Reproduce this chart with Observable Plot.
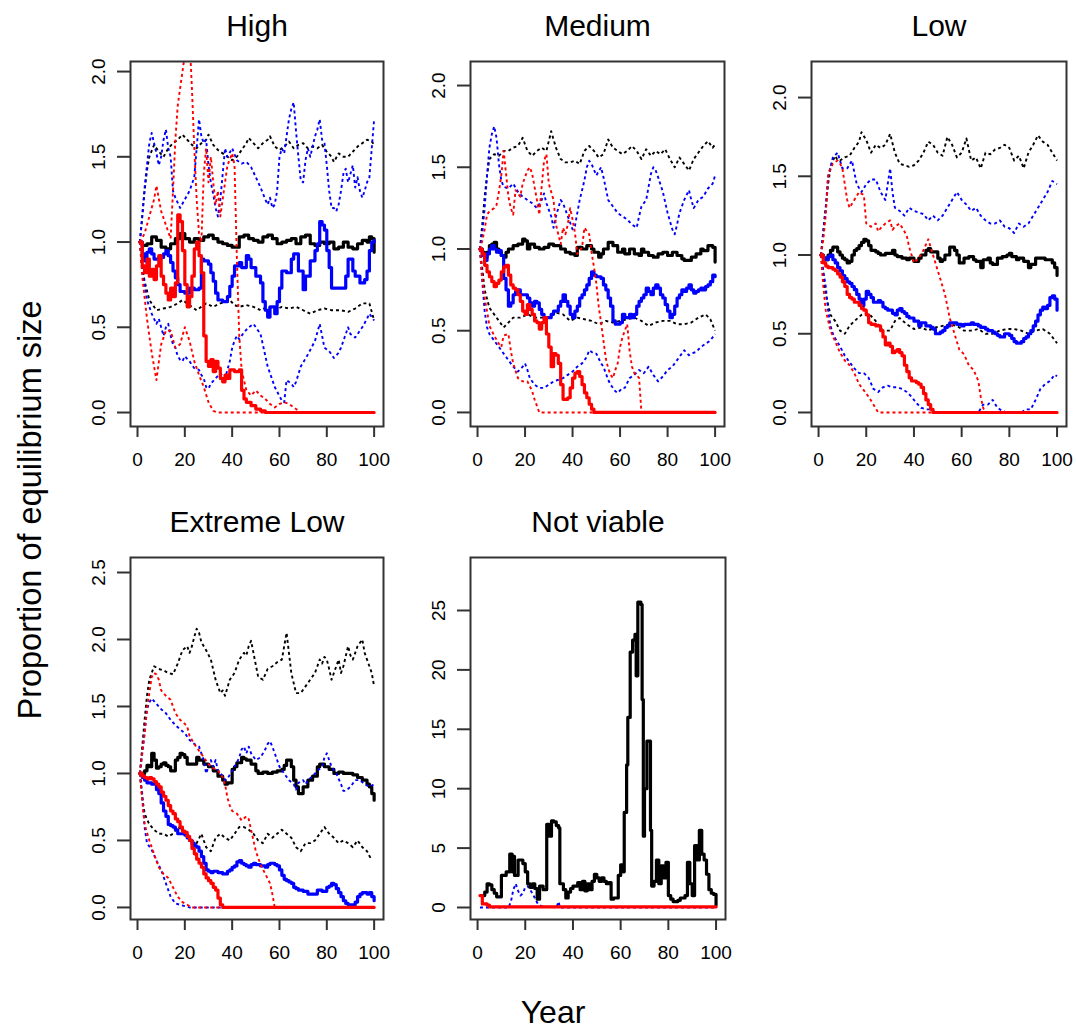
<!DOCTYPE html>
<html><head><meta charset="utf-8">
<script src="https://cdn.jsdelivr.net/npm/d3@7"></script>
<script src="https://cdn.jsdelivr.net/npm/@observablehq/plot@0.6"></script>
<style>
body{margin:0;background:#fff;}
#wrap{position:relative;width:1076px;height:1030px;background:#fff;overflow:hidden;}
</style></head><body><div id="wrap"></div>
<script>
// ---------- tick labels ----------
const xTicks = [0,20,40,60,80,100];
const yTicks20 = [0,0.5,1,1.5,2];
const yTicks25 = [0,0.5,1,1.5,2,2.5];
const yTicksNV = [0,5,10,15,20,25];
const panelTitles = ["High","Medium","Low","Extreme Low","Not viable"];
const yLabel = "Proportion of equilibrium size";
const xLabel = "Year";

// ---------- High ----------
const high_black = [[1,1.0],[2,0.98],[4,0.99],[6,1.03],[8,1.01],[10,0.97],[12,0.96],[14,0.99],[16,1.02],[18,1.05],[20,1.02],[22,1.0],[24,1.02],[26,1.01],[28,1.03],[30,1.04],[32,1.02],[34,1.0],[36,0.99],[38,0.98],[40,0.97],[42,0.97],[43,1.03],[45,1.04],[47,1.02],[49,1.01],[51,1.0],[53,1.03],[55,1.04],[57,1.02],[59,0.99],[61,1.0],[63,1.01],[65,1.02],[67,0.99],[69,1.03],[71,1.04],[73,0.99],[75,0.98],[77,1.0],[79,0.99],[81,1.0],[83,0.96],[85,0.97],[87,1.0],[89,0.97],[91,0.96],[93,0.99],[95,1.01],[97,1.0],[98,1.03],[99,1.02],[100,0.94]];
const high_black_hi = [[1,1.0],[2,1.15],[3,1.3],[4,1.42],[5,1.5],[7,1.57],[9,1.53],[11,1.5],[13,1.55],[15,1.58],[17,1.6],[19,1.63],[21,1.6],[23,1.57],[25,1.55],[27,1.58],[29,1.6],[30,1.63],[32,1.57],[34,1.54],[36,1.52],[38,1.5],[40,1.48],[42,1.5],[44,1.54],[46,1.58],[47,1.61],[49,1.58],[51,1.55],[53,1.58],[55,1.6],[56,1.62],[58,1.56],[60,1.54],[62,1.56],[64,1.59],[66,1.55],[68,1.57],[70,1.58],[72,1.55],[74,1.56],[76,1.55],[78,1.57],[80,1.53],[82,1.5],[83,1.47],[85,1.52],[87,1.5],[89,1.5],[91,1.53],[93,1.56],[95,1.58],[97,1.6],[99,1.59],[100,1.57]];
const high_black_lo = [[1,1.0],[2,0.85],[3,0.77],[5,0.66],[8,0.6],[11,0.61],[14,0.62],[17,0.64],[19,0.66],[22,0.63],[25,0.6],[27,0.62],[29,0.64],[32,0.62],[35,0.64],[39,0.66],[41,0.63],[43,0.62],[46,0.63],[49,0.62],[52,0.6],[55,0.62],[58,0.6],[61,0.62],[64,0.61],[67,0.62],[70,0.6],[73,0.58],[76,0.6],[79,0.61],[82,0.6],[86,0.6],[89,0.59],[92,0.61],[95,0.64],[98,0.64],[100,0.54]];
const high_blue = [[1,1.0],[2,0.93],[3,0.89],[4,0.94],[5,0.96],[6,0.93],[7,0.9],[9,0.91],[11,0.93],[12,0.95],[13,0.92],[14,0.88],[15,0.83],[16,0.79],[17,0.75],[18,0.71],[20,0.7],[22,0.73],[24,0.72],[26,0.73],[27,0.9],[28,0.89],[30,0.87],[31,0.82],[32,0.77],[33,0.7],[34,0.66],[36,0.65],[38,0.68],[39,0.74],[40,0.8],[41,0.86],[43,0.88],[44,0.85],[46,0.92],[47,0.9],[48,0.85],[50,0.8],[52,0.76],[53,0.65],[54,0.6],[55,0.56],[56,0.62],[58,0.58],[59,0.65],[60,0.73],[61,0.83],[63,0.82],[65,0.9],[66,0.93],[68,0.83],[70,0.72],[71,0.8],[73,0.89],[75,0.95],[76,0.99],[77,1.12],[78,1.1],[79,1.07],[80,0.95],[81,0.85],[82,0.73],[87,0.73],[88,0.8],[89,0.9],[91,0.83],[92,0.8],[94,0.76],[96,0.78],[97,0.83],[98,0.95],[99,1.0],[100,1.01]];
const high_blue_hi = [[1,1.0],[2,1.15],[3,1.32],[4,1.45],[5,1.58],[6,1.64],[7,1.58],[8,1.52],[9,1.45],[10,1.5],[11,1.6],[12,1.66],[13,1.55],[14,1.5],[15,1.3],[16,1.26],[17,1.23],[18,1.2],[20,1.25],[22,1.3],[23,1.34],[24,1.38],[25,1.55],[26,1.72],[27,1.62],[28,1.58],[29,1.6],[30,1.45],[31,1.35],[32,1.28],[33,1.2],[34,1.15],[35,1.25],[36,1.4],[37,1.55],[38,1.5],[40,1.55],[42,1.48],[44,1.46],[46,1.47],[48,1.44],[50,1.38],[52,1.32],[54,1.25],[55,1.22],[56,1.26],[57,1.2],[58,1.22],[59,1.3],[60,1.5],[61,1.55],[62,1.52],[63,1.62],[64,1.72],[65,1.78],[66,1.82],[67,1.65],[68,1.5],[69,1.36],[70,1.35],[71,1.48],[72,1.55],[73,1.5],[74,1.56],[75,1.62],[76,1.66],[77,1.72],[78,1.6],[79,1.58],[80,1.45],[81,1.3],[82,1.2],[83,1.2],[84,1.18],[85,1.22],[86,1.3],[87,1.4],[88,1.43],[89,1.35],[90,1.4],[91,1.45],[92,1.32],[93,1.38],[94,1.3],[95,1.26],[96,1.3],[97,1.35],[98,1.38],[99,1.55],[100,1.72]];
const high_blue_lo = [[1,1.0],[2,0.85],[3,0.75],[4,0.66],[5,0.62],[6,0.58],[7,0.55],[8,0.52],[9,0.55],[10,0.5],[11,0.45],[12,0.5],[13,0.52],[14,0.45],[15,0.4],[16,0.38],[17,0.33],[18,0.31],[19,0.3],[20,0.33],[22,0.3],[24,0.26],[26,0.25],[27,0.22],[28,0.2],[29,0.15],[30,0.14],[31,0.17],[33,0.2],[35,0.23],[37,0.2],[38,0.25],[39,0.3],[40,0.38],[41,0.42],[42,0.45],[43,0.43],[45,0.47],[47,0.5],[49,0.52],[50,0.5],[52,0.46],[55,0.27],[58,0.15],[61,0.07],[62,0.06],[63,0.19],[65,0.17],[66,0.15],[67,0.18],[69,0.27],[72,0.34],[75,0.42],[77,0.52],[79,0.38],[81,0.36],[83,0.32],[85,0.35],[86,0.38],[89,0.5],[90,0.46],[92,0.44],[93,0.46],[95,0.5],[97,0.55],[98,0.58],[99,0.56],[100,0.54]];
const high_red = [[1,1.0],[2,0.86],[3,0.82],[4,0.9],[5,0.8],[6,0.84],[7,0.78],[8,0.86],[9,0.92],[10,0.8],[11,0.75],[12,0.7],[13,0.66],[14,0.73],[15,0.68],[16,0.76],[17,1.16],[18,1.12],[19,0.95],[20,0.75],[21,0.62],[22,0.68],[23,0.8],[24,0.96],[25,1.0],[26,0.92],[27,0.82],[28,0.45],[29,0.3],[30,0.27],[31,0.31],[32,0.24],[33,0.3],[34,0.26],[35,0.2],[36,0.18],[37,0.22],[38,0.2],[39,0.25],[41,0.24],[43,0.25],[44,0.13],[45,0.08],[46,0.06],[48,0.04],[50,0.02],[52,0.01],[54,0],[100,0]];
const high_red_hi = [[1,1.0],[3,1.05],[5,1.15],[7,1.25],[8,1.33],[10,1.18],[12,1.1],[14,1.02],[15,1.3],[16,1.6],[17,1.8],[18,1.9],[19,2.0],[20,2.1],[21,2.15],[22,2.2],[23,1.9],[24,1.55],[25,1.25],[26,1.05],[27,1.0],[28,1.4],[29,1.55],[30,1.35],[31,1.5],[32,1.35],[33,1.22],[34,1.3],[35,1.15],[36,1.25],[38,1.45],[40,1.52],[41,1.45],[42,0.9],[43,0.45],[44,0.25],[46,0.13],[48,0.1],[50,0.13],[52,0.1],[54,0.08],[56,0.05],[58,0.03],[60,0.05],[62,0.06],[64,0.05],[66,0.03],[68,0.01],[69,0],[100,0]];
const high_red_lo = [[1,1.0],[2,0.8],[4,0.55],[6,0.35],[8,0.19],[10,0.4],[12,0.48],[14,0.48],[16,0.38],[18,0.4],[20,0.5],[22,0.42],[24,0.3],[26,0.22],[28,0.15],[30,0.06],[32,0.01],[34,0],[100,0]];

// ---------- Medium ----------
const med_black = [[1,1.0],[2,0.98],[3,0.95],[4,0.98],[5,1.02],[6,1.03],[7,1.04],[8,1.0],[9,0.98],[10,0.96],[11,0.95],[12,0.98],[13,1.0],[15,1.02],[17,1.03],[19,1.06],[20,1.05],[21,1.0],[22,1.03],[24,1.01],[26,1.0],[28,1.01],[30,1.03],[32,1.02],[34,1.02],[35,1.0],[37,0.98],[39,0.97],[41,0.96],[42,1.01],[44,1.0],[46,1.02],[48,1.0],[49,0.98],[51,0.95],[52,0.97],[53,1.0],[55,1.04],[57,1.02],[59,0.98],[61,1.0],[62,0.97],[64,1.0],[66,0.97],[68,0.96],[69,1.0],[70,0.98],[72,0.96],[74,0.95],[76,0.97],[78,0.98],[80,0.96],[82,0.98],[84,0.96],[86,0.94],[87,0.93],[89,0.93],[90,0.95],[92,0.97],[94,1.0],[95,0.99],[97,1.02],[99,1.01],[100,0.92]];
const med_black_hi = [[1,1.0],[2,1.15],[3,1.32],[4,1.45],[5,1.55],[7,1.58],[9,1.57],[11,1.6],[13,1.6],[15,1.62],[17,1.63],[19,1.68],[21,1.6],[23,1.57],[25,1.6],[27,1.62],[29,1.6],[31,1.72],[33,1.62],[35,1.55],[37,1.53],[39,1.53],[41,1.54],[43,1.52],[45,1.6],[47,1.63],[49,1.6],[51,1.56],[53,1.58],[55,1.67],[57,1.62],[59,1.6],[61,1.58],[63,1.6],[65,1.63],[67,1.6],[69,1.55],[71,1.61],[73,1.57],[75,1.6],[77,1.58],[79,1.61],[81,1.55],[83,1.5],[85,1.56],[87,1.52],[89,1.48],[91,1.55],[93,1.59],[95,1.63],[97,1.66],[99,1.62],[100,1.64]];
const med_black_lo = [[1,1.0],[2,0.88],[3,0.75],[5,0.64],[7,0.6],[9,0.56],[11,0.52],[13,0.55],[15,0.58],[18,0.58],[21,0.6],[24,0.58],[27,0.58],[30,0.58],[33,0.61],[36,0.6],[39,0.56],[42,0.58],[45,0.57],[48,0.56],[51,0.54],[54,0.56],[57,0.55],[60,0.56],[63,0.57],[66,0.58],[69,0.56],[72,0.53],[75,0.55],[78,0.56],[81,0.56],[84,0.54],[87,0.54],[90,0.55],[93,0.58],[96,0.6],[98,0.57],[100,0.5]];
const med_blue = [[1,1.0],[2,0.96],[3,0.93],[4,0.97],[5,1.0],[6,1.02],[7,1.0],[8,0.98],[9,0.99],[10,0.96],[11,0.82],[12,0.75],[13,0.65],[14,0.67],[15,0.72],[16,0.74],[17,0.75],[18,0.72],[20,0.72],[21,0.7],[22,0.67],[23,0.65],[24,0.68],[25,0.67],[26,0.63],[27,0.6],[28,0.58],[30,0.58],[31,0.6],[32,0.62],[34,0.65],[35,0.68],[36,0.72],[37,0.68],[38,0.65],[39,0.6],[40,0.58],[41,0.62],[42,0.65],[43,0.7],[44,0.72],[45,0.75],[46,0.78],[47,0.82],[48,0.86],[49,0.84],[50,0.83],[52,0.82],[53,0.78],[54,0.75],[55,0.7],[56,0.65],[57,0.56],[58,0.54],[60,0.55],[61,0.6],[62,0.58],[64,0.6],[65,0.58],[66,0.6],[67,0.65],[68,0.68],[69,0.7],[70,0.72],[71,0.76],[72,0.74],[73,0.72],[74,0.76],[75,0.78],[76,0.76],[77,0.72],[78,0.7],[79,0.66],[80,0.62],[81,0.58],[82,0.6],[83,0.65],[84,0.7],[85,0.72],[86,0.75],[87,0.74],[88,0.76],[89,0.78],[90,0.75],[91,0.73],[92,0.74],[93,0.75],[94,0.76],[95,0.75],[96,0.77],[97,0.78],[98,0.8],[99,0.84],[100,0.83]];
const med_blue_hi = [[1,1.0],[2,1.1],[3,1.25],[4,1.45],[5,1.62],[6,1.7],[7,1.75],[8,1.68],[9,1.52],[10,1.42],[11,1.38],[13,1.37],[15,1.4],[17,1.35],[19,1.32],[21,1.3],[23,1.28],[25,1.25],[27,1.3],[28,1.34],[29,1.28],[31,1.2],[32,1.13],[33,1.2],[35,1.3],[36,1.28],[38,1.2],[40,1.12],[41,1.14],[43,1.3],[45,1.42],[46,1.5],[47,1.54],[48,1.52],[50,1.45],[52,1.5],[53,1.44],[55,1.3],[57,1.26],[59,1.22],[61,1.2],[63,1.18],[65,1.15],[67,1.13],[68,1.2],[69,1.26],[71,1.3],[72,1.38],[73,1.46],[74,1.5],[75,1.48],[76,1.44],[78,1.35],[80,1.22],[82,1.12],[83,1.09],[84,1.15],[85,1.22],[87,1.3],[89,1.36],[90,1.3],[91,1.25],[93,1.3],[95,1.32],[97,1.37],[99,1.4],[100,1.45]];
const med_blue_lo = [[1,1.0],[2,0.8],[3,0.62],[4,0.52],[5,0.48],[7,0.44],[9,0.4],[11,0.36],[13,0.32],[15,0.28],[17,0.25],[19,0.28],[20,0.3],[21,0.26],[22,0.21],[24,0.17],[26,0.15],[28,0.15],[30,0.17],[32,0.19],[34,0.2],[36,0.21],[38,0.23],[40,0.25],[42,0.28],[44,0.3],[46,0.34],[47,0.38],[49,0.36],[50,0.36],[52,0.3],[53,0.28],[55,0.2],[56,0.17],[58,0.13],[59,0.12],[61,0.15],[62,0.15],[64,0.21],[66,0.23],[68,0.26],[70,0.24],[72,0.28],[74,0.23],[76,0.19],[78,0.22],[80,0.26],[82,0.28],[84,0.32],[86,0.36],[87,0.38],[89,0.35],[90,0.36],[92,0.37],[94,0.4],[96,0.42],[98,0.44],[100,0.48]];
const med_red = [[1,1.0],[2,0.97],[3,0.9],[4,0.86],[5,0.83],[6,0.8],[7,0.77],[8,0.79],[9,0.81],[10,0.86],[11,0.89],[12,0.9],[13,0.84],[14,0.78],[15,0.76],[16,0.75],[17,0.72],[18,0.68],[19,0.62],[20,0.6],[21,0.66],[22,0.63],[23,0.6],[24,0.56],[25,0.55],[26,0.51],[27,0.55],[28,0.58],[29,0.48],[30,0.4],[31,0.28],[32,0.36],[33,0.35],[34,0.3],[35,0.17],[36,0.08],[38,0.09],[39,0.15],[40,0.21],[41,0.24],[42,0.25],[43,0.22],[44,0.17],[45,0.12],[46,0.09],[47,0.05],[48,0.02],[49,0],[100,0]];
const med_red_hi = [[1,1.0],[2,1.05],[3,1.12],[4,1.21],[5,1.23],[7,1.25],[8,1.27],[9,1.35],[10,1.45],[11,1.6],[12,1.46],[13,1.32],[14,1.25],[15,1.21],[16,1.36],[18,1.32],[19,1.4],[21,1.48],[22,1.5],[23,1.46],[24,1.38],[25,1.3],[26,1.21],[27,1.38],[28,1.54],[29,1.58],[30,1.4],[32,1.3],[33,1.15],[34,1.09],[35,1.03],[36,1.13],[37,1.09],[38,1.15],[39,1.25],[40,1.18],[41,1.1],[42,0.97],[44,1.01],[45,1.13],[47,1.09],[48,0.98],[49,0.89],[50,0.79],[51,0.65],[52,0.55],[53,0.44],[54,0.33],[55,0.27],[56,0.23],[57,0.21],[58,0.26],[59,0.3],[60,0.4],[61,0.46],[62,0.5],[63,0.54],[64,0.38],[65,0.28],[66,0.24],[67,0.23],[68,0.21],[69,0],[100,0]];
const med_red_lo = [[1,1.0],[2,0.82],[3,0.7],[4,0.62],[5,0.53],[7,0.47],[9,0.42],[10,0.4],[11,0.47],[13,0.48],[14,0.38],[15,0.3],[17,0.21],[19,0.19],[21,0.19],[23,0.13],[24,0.08],[26,0],[100,0]];

// ---------- Low ----------
const low_black = [[1,1.0],[2,0.98],[3,0.97],[4,1.0],[5,1.03],[6,1.05],[7,1.05],[8,1.02],[9,1.0],[10,0.98],[11,0.97],[12,0.95],[13,0.96],[14,1.0],[15,1.03],[16,1.04],[17,1.06],[18,1.08],[19,1.1],[20,1.09],[21,1.06],[22,1.03],[24,1.02],[25,1.01],[26,1.0],[28,1.01],[30,1.01],[31,1.03],[32,1.0],[33,0.99],[35,0.98],[37,0.97],[38,0.98],[40,0.96],[42,0.98],[43,1.0],[45,1.03],[46,1.04],[47,1.02],[48,1.02],[50,0.98],[51,0.96],[52,0.97],[53,1.0],[55,1.05],[57,1.03],[58,1.0],[59,0.95],[60,0.95],[61,0.98],[63,0.99],[65,0.97],[66,0.96],[68,0.92],[69,0.97],[71,0.98],[72,0.95],[73,0.94],[75,0.98],[77,0.99],[79,1.0],[80,1.01],[81,0.99],[83,0.97],[84,0.98],[86,0.96],[88,0.92],[89,0.94],[91,0.98],[93,0.98],[95,0.97],[97,0.97],[98,0.95],[99,0.92],[100,0.87]];
const low_black_hi = [[1,1.0],[2,1.15],[3,1.3],[4,1.45],[5,1.55],[6,1.6],[7,1.63],[8,1.6],[9,1.6],[11,1.62],[13,1.63],[15,1.68],[17,1.72],[18,1.78],[20,1.73],[22,1.65],[24,1.7],[26,1.68],[28,1.7],[30,1.77],[32,1.65],[34,1.58],[36,1.57],[38,1.56],[40,1.57],[42,1.6],[44,1.65],[46,1.72],[48,1.7],[50,1.65],[52,1.63],[54,1.75],[56,1.7],[58,1.62],[60,1.65],[62,1.74],[64,1.6],[66,1.62],[68,1.55],[70,1.65],[72,1.64],[74,1.67],[76,1.68],[78,1.7],[80,1.68],[82,1.6],[84,1.63],[86,1.55],[88,1.65],[90,1.7],[92,1.76],[94,1.72],[96,1.7],[98,1.65],[100,1.6]];
const low_black_lo = [[1,1.0],[2,0.87],[3,0.75],[5,0.62],[7,0.58],[9,0.52],[11,0.5],[13,0.55],[15,0.58],[18,0.62],[21,0.63],[24,0.58],[27,0.52],[30,0.52],[32,0.58],[34,0.6],[37,0.56],[40,0.53],[43,0.54],[46,0.52],[49,0.54],[52,0.55],[55,0.56],[58,0.55],[61,0.52],[64,0.52],[67,0.53],[70,0.5],[73,0.5],[76,0.52],[79,0.53],[82,0.53],[85,0.52],[88,0.5],[91,0.52],[94,0.53],[97,0.5],[100,0.44]];
const low_blue = [[1,1.0],[2,0.98],[3,0.97],[4,0.99],[5,1.0],[6,0.97],[7,0.95],[8,0.92],[9,0.9],[10,0.87],[11,0.85],[12,0.83],[13,0.82],[14,0.8],[15,0.78],[16,0.75],[17,0.72],[18,0.68],[19,0.72],[20,0.77],[21,0.75],[22,0.73],[23,0.7],[24,0.7],[25,0.71],[26,0.7],[27,0.67],[28,0.66],[29,0.65],[30,0.65],[31,0.63],[32,0.62],[33,0.65],[34,0.66],[35,0.64],[36,0.63],[37,0.61],[38,0.6],[39,0.6],[40,0.58],[41,0.58],[42,0.55],[43,0.57],[44,0.57],[45,0.55],[46,0.55],[47,0.54],[48,0.53],[49,0.5],[50,0.5],[51,0.51],[52,0.52],[53,0.54],[54,0.55],[55,0.57],[56,0.57],[58,0.56],[60,0.55],[61,0.56],[62,0.56],[64,0.57],[65,0.56],[66,0.56],[67,0.55],[68,0.54],[70,0.53],[71,0.52],[72,0.52],[73,0.51],[74,0.5],[75,0.49],[76,0.48],[77,0.48],[78,0.5],[79,0.5],[80,0.49],[81,0.47],[82,0.45],[83,0.44],[84,0.44],[85,0.45],[86,0.47],[87,0.48],[88,0.5],[89,0.52],[90,0.55],[91,0.58],[92,0.62],[93,0.65],[94,0.67],[95,0.66],[96,0.68],[97,0.73],[98,0.74],[99,0.72],[100,0.65]];
const low_blue_hi = [[1,1.0],[2,1.15],[3,1.3],[4,1.5],[6,1.62],[8,1.65],[10,1.55],[12,1.55],[14,1.6],[16,1.45],[18,1.4],[20,1.45],[22,1.48],[24,1.48],[26,1.4],[28,1.35],[30,1.55],[31,1.4],[32,1.3],[34,1.28],[36,1.25],[38,1.3],[40,1.28],[42,1.27],[44,1.26],[46,1.22],[48,1.25],[50,1.22],[52,1.25],[54,1.3],[56,1.35],[58,1.4],[60,1.35],[62,1.32],[64,1.28],[66,1.3],[68,1.25],[70,1.22],[72,1.2],[74,1.2],[76,1.22],[78,1.18],[80,1.17],[82,1.14],[84,1.2],[86,1.18],[88,1.2],[90,1.25],[92,1.3],[94,1.35],[96,1.4],[98,1.47],[100,1.45]];
const low_blue_lo = [[1,1.0],[2,0.9],[3,0.8],[4,0.65],[5,0.55],[6,0.5],[7,0.47],[9,0.42],[11,0.36],[13,0.32],[15,0.28],[17,0.25],[19,0.25],[21,0.22],[23,0.15],[25,0.13],[27,0.16],[29,0.17],[31,0.16],[33,0.16],[35,0.15],[37,0.13],[39,0.1],[41,0.06],[43,0.03],[45,0.02],[47,0.02],[49,0.0],[67,0.0],[69,0.05],[71,0.05],[73,0.08],[75,0.03],[77,0.01],[79,0.0],[85,0.0],[87,0.02],[89,0.02],[91,0.08],[93,0.15],[95,0.18],[97,0.2],[99,0.24],[100,0.23]];
const low_red = [[1,1.0],[2,0.95],[3,0.93],[4,0.92],[5,0.92],[6,0.91],[7,0.9],[8,0.88],[9,0.86],[10,0.83],[11,0.8],[12,0.75],[13,0.73],[14,0.72],[15,0.7],[16,0.7],[17,0.68],[18,0.66],[19,0.65],[20,0.62],[21,0.57],[22,0.56],[23,0.56],[24,0.55],[25,0.55],[26,0.52],[27,0.48],[28,0.43],[29,0.44],[30,0.42],[31,0.38],[32,0.39],[33,0.4],[34,0.38],[35,0.36],[36,0.3],[37,0.26],[38,0.22],[39,0.2],[40,0.2],[41,0.19],[42,0.18],[43,0.16],[44,0.12],[45,0.08],[46,0.05],[47,0.02],[48,0],[100,0]];
const low_red_hi = [[1,1.0],[2,1.1],[3,1.25],[4,1.5],[5,1.55],[6,1.58],[8,1.6],[9,1.58],[10,1.55],[11,1.45],[12,1.35],[13,1.3],[15,1.35],[17,1.4],[19,1.38],[20,1.2],[22,1.18],[24,1.2],[25,1.15],[26,1.17],[28,1.2],[30,1.22],[31,1.16],[32,1.18],[34,1.2],[36,1.15],[37,1.12],[38,1.05],[39,1.0],[40,0.95],[42,0.98],[44,1.03],[46,1.1],[47,1.05],[49,0.95],[51,0.85],[53,0.75],[55,0.6],[57,0.5],[59,0.4],[61,0.37],[63,0.3],[65,0.27],[67,0.2],[68,0.1],[69,0.03],[70,0.0],[100,0]];
const low_red_lo = [[1,1.0],[2,0.8],[3,0.65],[5,0.52],[7,0.45],[9,0.38],[11,0.33],[13,0.3],[15,0.25],[17,0.18],[19,0.14],[21,0.1],[23,0.05],[25,0.0],[100,0]];

// ---------- Extreme Low ----------
const ext_black = [[1,1.0],[2,1.0],[3,1.02],[4,1.06],[5,1.05],[6,1.15],[7,1.1],[8,1.04],[9,1.05],[10,1.07],[11,1.08],[12,1.06],[13,1.05],[14,1.02],[16,1.1],[17,1.12],[18,1.15],[19,1.14],[20,1.12],[21,1.07],[23,1.07],[25,1.12],[26,1.1],[28,1.07],[30,1.05],[32,1.02],[34,0.98],[36,0.95],[37,0.92],[38,0.93],[40,1.03],[41,1.05],[42,1.08],[44,1.12],[45,1.11],[46,1.1],[48,1.07],[50,1.02],[51,1.0],[53,1.01],[55,1.0],[57,1.01],[59,1.02],[61,1.03],[62,1.06],[63,1.1],[65,1.05],[66,0.95],[67,0.9],[68,0.85],[70,0.9],[72,0.95],[74,0.98],[76,1.05],[77,1.07],[79,1.05],[81,1.03],[83,1.0],[85,1.01],[87,1.0],[89,1.0],[91,0.99],[93,0.97],[95,0.95],[97,0.92],[98,0.9],[99,0.85],[100,0.8]];
const ext_black_hi = [[1,1.0],[2,1.2],[3,1.4],[4,1.58],[5,1.7],[6,1.75],[7,1.8],[9,1.78],[11,1.77],[13,1.75],[15,1.74],[17,1.82],[19,1.92],[21,1.95],[22,1.9],[23,1.95],[24,2.02],[25,2.08],[26,2.05],[27,1.98],[29,1.92],[31,1.85],[33,1.7],[35,1.6],[36,1.62],[37,1.58],[39,1.7],[41,1.75],[43,1.85],[45,1.9],[46,1.88],[47,1.95],[48,1.99],[49,1.9],[51,1.72],[53,1.7],[55,1.78],[57,1.8],[59,1.83],[61,1.85],[62,1.95],[63,2.05],[64,1.9],[65,1.75],[67,1.6],[69,1.6],[71,1.65],[73,1.7],[75,1.75],[77,1.85],[78,1.82],[79,1.87],[80,1.85],[81,1.78],[82,1.7],[83,1.75],[85,1.85],[86,1.75],[87,1.8],[89,1.95],[90,1.88],[91,1.85],[93,1.95],[95,2.0],[96,1.9],[97,1.85],[99,1.75],[100,1.65]];
const ext_black_lo = [[1,1.0],[2,0.82],[3,0.7],[5,0.62],[7,0.58],[9,0.55],[11,0.55],[13,0.53],[15,0.55],[17,0.6],[19,0.58],[21,0.55],[23,0.5],[25,0.48],[27,0.55],[29,0.45],[31,0.42],[33,0.52],[35,0.55],[37,0.52],[39,0.5],[41,0.55],[43,0.6],[45,0.6],[47,0.58],[49,0.55],[51,0.5],[53,0.48],[55,0.55],[57,0.52],[59,0.55],[61,0.58],[63,0.55],[65,0.52],[67,0.45],[69,0.42],[71,0.48],[73,0.48],[75,0.5],[77,0.55],[79,0.6],[81,0.55],[83,0.52],[85,0.48],[87,0.5],[89,0.48],[91,0.45],[93,0.5],[95,0.45],[97,0.42],[99,0.35]];
const ext_blue = [[1,1.0],[2,0.97],[3,0.95],[4,0.93],[5,0.93],[6,0.92],[7,0.92],[8,0.88],[9,0.85],[10,0.78],[11,0.72],[12,0.68],[13,0.62],[14,0.61],[15,0.6],[16,0.58],[17,0.55],[18,0.55],[19,0.55],[20,0.54],[21,0.52],[22,0.5],[23,0.48],[24,0.46],[25,0.45],[26,0.42],[27,0.38],[28,0.33],[29,0.28],[30,0.27],[31,0.26],[32,0.27],[33,0.27],[34,0.26],[35,0.26],[36,0.25],[37,0.25],[38,0.27],[39,0.28],[40,0.3],[41,0.31],[42,0.34],[43,0.35],[44,0.33],[45,0.32],[46,0.31],[47,0.3],[48,0.32],[49,0.33],[50,0.32],[51,0.32],[52,0.31],[53,0.31],[54,0.3],[55,0.32],[56,0.33],[57,0.33],[58,0.32],[59,0.31],[60,0.28],[61,0.24],[62,0.21],[63,0.2],[64,0.19],[65,0.18],[66,0.15],[67,0.14],[68,0.13],[69,0.13],[70,0.12],[71,0.12],[72,0.1],[73,0.1],[74,0.1],[75,0.1],[76,0.13],[77,0.13],[78,0.12],[79,0.12],[80,0.15],[81,0.16],[82,0.18],[83,0.17],[84,0.14],[85,0.11],[86,0.08],[87,0.05],[88,0.03],[89,0.02],[90,0.02],[91,0.02],[92,0.04],[93,0.08],[94,0.1],[95,0.11],[96,0.11],[97,0.1],[98,0.11],[99,0.08],[100,0.05]];
const ext_blue_hi = [[1,1.0],[2,1.15],[3,1.3],[4,1.48],[5,1.53],[6,1.56],[8,1.52],[10,1.48],[12,1.45],[14,1.4],[16,1.36],[18,1.33],[20,1.3],[22,1.25],[24,1.22],[26,1.2],[27,1.15],[28,1.1],[29,1.0],[30,1.05],[31,1.1],[32,1.05],[33,1.1],[34,1.02],[36,0.98],[37,0.95],[38,0.96],[40,1.02],[42,1.08],[43,1.12],[44,1.18],[45,1.2],[46,1.15],[47,1.2],[48,1.15],[50,1.1],[52,1.12],[54,1.18],[55,1.22],[56,1.24],[57,1.2],[58,1.15],[60,1.05],[62,1.0],[64,0.95],[66,0.92],[67,0.88],[68,0.93],[70,0.95],[71,0.92],[72,0.95],[74,0.98],[76,1.02],[78,1.05],[79,1.12],[80,1.15],[81,1.1],[82,1.05],[84,1.0],[86,0.92],[87,0.87],[88,0.87],[90,0.9],[92,0.95],[94,0.95],[96,0.92],[98,0.9],[100,0.92]];
const ext_blue_lo = [[1,1.0],[2,0.85],[3,0.6],[4,0.48],[6,0.43],[8,0.35],[10,0.28],[12,0.18],[14,0.08],[16,0.03],[18,0.02],[20,0.01],[22,0.0],[100,0]];
const ext_red = [[1,1.0],[2,0.98],[3,0.97],[4,0.96],[5,0.97],[6,0.96],[7,0.94],[8,0.92],[9,0.9],[10,0.86],[11,0.83],[12,0.8],[13,0.76],[14,0.72],[15,0.7],[16,0.66],[17,0.64],[18,0.6],[19,0.57],[20,0.56],[21,0.53],[22,0.5],[23,0.44],[24,0.4],[25,0.36],[26,0.33],[27,0.3],[28,0.25],[29,0.22],[30,0.2],[31,0.18],[32,0.15],[33,0.13],[34,0.07],[35,0.02],[36,0],[100,0]];
const ext_red_hi = [[1,1.0],[2,1.15],[3,1.3],[4,1.48],[5,1.6],[6,1.72],[7,1.75],[8,1.74],[9,1.7],[10,1.62],[11,1.6],[12,1.58],[14,1.55],[15,1.5],[16,1.45],[18,1.4],[20,1.37],[21,1.35],[22,1.28],[24,1.22],[26,1.17],[28,1.12],[30,1.07],[32,1.04],[34,1.02],[36,0.97],[37,0.92],[38,0.82],[39,0.76],[40,0.72],[42,0.7],[44,0.65],[46,0.68],[47,0.66],[48,0.58],[50,0.42],[52,0.32],[54,0.25],[56,0.18],[57,0.1],[58,0],[100,0]];
const ext_red_lo = [[1,1.0],[2,0.8],[3,0.62],[5,0.5],[7,0.4],[9,0.3],[11,0.25],[13,0.22],[15,0.15],[17,0.08],[19,0.04],[21,0.02],[23,0.0],[100,0]];

// ---------- Not viable ----------
const nv_black = [[2,1.0],[3,1.3],[4,2.0],[5,1.9],[6,1.5],[7,1.2],[8,0.9],[9,0.9],[10,2.7],[12,3.0],[13.5,4.5],[14.5,3.0],[15,4.3],[15.5,2.7],[17,4.0],[19,3.7],[20,3.0],[21,2.0],[22,1.7],[23,2.0],[24,1.6],[25,0.7],[26,1.8],[27.5,1.5],[29,7.0],[30,6.0],[31,7.3],[32,7.2],[33,6.9],[34,6.7],[34.5,2.0],[36,1.5],[37,0.8],[38,1.3],[39,1.6],[40,1.8],[41,1.8],[42,2.1],[43,1.5],[44,2.2],[45,1.4],[46,2.0],[47,1.5],[48,2.2],[49,2.8],[50,2.5],[51,2.2],[52,2.5],[53,2.2],[54,2.0],[55,2.1],[56,0.7],[57,0.8],[58,0.8],[59,2.7],[60,3.6],[61,3.0],[61.5,8.0],[62.5,12.0],[63,16.0],[64,21.5],[65,22.5],[66,23.0],[66.5,19.5],[67.2,25.7],[68.5,25.5],[69,17.5],[69.5,6.0],[70,10.0],[71,14.0],[72,14.0],[72.5,6.5],[73,1.8],[74,2.2],[75,4.0],[76,2.0],[77,3.5],[78,2.5],[79,3.8],[80,1.0],[81,0.7],[82,0.5],[84,0.6],[85,0.8],[87,1.0],[88,3.8],[89,2.0],[90,1.0],[91,5.2],[92,4.0],[93,6.5],[94,4.5],[95,4.0],[96,2.8],[97,1.5],[98,1.2],[99,1.1],[100,0.2]];
const nv_blue_hi = [[1,0],[13,0],[14,0.5],[15,1.5],[16,2.0],[17,1.4],[18,1.0],[19,1.2],[20,1.7],[21,1.8],[22,1.5],[23,1.2],[24,0.8],[25,0.4],[26,0.2],[27,0.1],[33,0],[34,0.5],[34.5,0],[100,0]];
const nv_red = [[1,1.0],[2,0.3],[4,0.2],[5,0.05],[100,0.05]];

// ---------- layout ----------
const BLACK = "#000000", BLUE = "#0000ff", RED = "#ff0000";
const fmt1 = d3.format(".1f");
const panels = [
  {title: panelTitles[0], box: [130,383,61,426], y: [-0.082,2.059], ticks: yTicks20, fmt: fmt1,
   series: [[high_black_hi,BLACK,1],[high_black_lo,BLACK,1],[high_black,BLACK,0],[high_blue_hi,BLUE,1],[high_blue_lo,BLUE,1],[high_blue,BLUE,0],[high_red_hi,RED,1],[high_red_lo,RED,1],[high_red,RED,0]]},
  {title: panelTitles[1], box: [470,724,61,426], y: [-0.086,2.147], ticks: yTicks20, fmt: fmt1,
   series: [[med_black_hi,BLACK,1],[med_black_lo,BLACK,1],[med_black,BLACK,0],[med_blue_hi,BLUE,1],[med_blue_lo,BLUE,1],[med_blue,BLUE,0],[med_red_hi,RED,1],[med_red_lo,RED,1],[med_red,RED,0]]},
  {title: panelTitles[2], box: [811,1066,61,426], y: [-0.089,2.229], ticks: yTicks20, fmt: fmt1,
   series: [[low_black_hi,BLACK,1],[low_black_lo,BLACK,1],[low_black,BLACK,0],[low_blue_hi,BLUE,1],[low_blue_lo,BLUE,1],[low_blue,BLUE,0],[low_red_hi,RED,1],[low_red_lo,RED,1],[low_red,RED,0]]},
  {title: panelTitles[3], box: [130,383,557,919], y: [-0.09,2.612], ticks: yTicks25, fmt: fmt1,
   series: [[ext_black_hi,BLACK,1],[ext_black_lo,BLACK,1],[ext_black,BLACK,0],[ext_blue_hi,BLUE,1],[ext_blue_lo,BLUE,1],[ext_blue,BLUE,0],[ext_red_hi,RED,1],[ext_red_lo,RED,1],[ext_red,RED,0]]},
  {title: panelTitles[4], box: [470,725,557,919], y: [-1.01,29.46], ticks: yTicksNV, fmt: d => String(d),
   series: [[nv_blue_hi,BLUE,1],[nv_black,BLACK,0],[nv_red,RED,0]]}
];

const wrap = document.getElementById("wrap");
const FONT = "'Liberation Sans', Arial, Helvetica, sans-serif";
const ML = 80, MR = 12, MT = 70, MB = 60;

for (const p of panels) {
  const [l, r, t, b] = p.box;
  const marks = p.series.map(([data, color, dotted]) => {
    const o = {x: d => d[0], y: d => d[1], stroke: color, clip: true,
      strokeWidth: dotted ? 1.9 : 3.2, curve: dotted ? "linear" : "step-after"};
    if (dotted) { o.strokeDasharray = "3,3"; o.strokeLinecap = "butt"; }
    return Plot.line(data, o);
  });
  marks.push(Plot.frame({stroke: "#333", strokeWidth: 2}));
  marks.push(Plot.axisX({ticks: xTicks, tickSize: 11, tickPadding: 15, stroke: "#333", strokeWidth: 2, fill: "#000", fontSize: 19, label: null}));
  marks.push(Plot.axisY({ticks: p.ticks, tickFormat: p.fmt, tickSize: 13, tickPadding: 13, tickRotate: -90, stroke: "#333", strokeWidth: 2, fill: "#000", fontSize: 19, label: null}));
  marks.push(Plot.text([p.title], {text: d => d, frameAnchor: "top", dy: -26, lineAnchor: "bottom", fontSize: 30, fill: "#000"}));
  const svg = Plot.plot({
    width: (r - l) + ML + MR, height: (b - t) + MT + MB,
    marginLeft: ML, marginRight: MR, marginTop: MT, marginBottom: MB,
    x: {domain: [-2.96, 103.96]},
    y: {domain: p.y},
    style: {fontFamily: FONT, fontSize: "19px", color: "#000", background: "transparent"},
    marks
  });
  svg.style.position = "absolute";
  svg.style.left = (l - ML) + "px";
  svg.style.top = (t - MT) + "px";
  svg.style.maxWidth = "none";
  wrap.appendChild(svg);
}

// global axis titles
const ns = "http://www.w3.org/2000/svg";
const ov = document.createElementNS(ns, "svg");
ov.setAttribute("width", 1076); ov.setAttribute("height", 1030);
ov.style.position = "absolute"; ov.style.left = "0"; ov.style.top = "0"; ov.style.pointerEvents = "none";
function addText(str, x, y, size, rot) {
  const tx = document.createElementNS(ns, "text");
  tx.setAttribute("x", x); tx.setAttribute("y", y);
  tx.setAttribute("text-anchor", "middle");
  tx.setAttribute("font-family", FONT);
  tx.setAttribute("font-size", size);
  tx.setAttribute("fill", "#000");
  if (rot) tx.setAttribute("transform", `rotate(${rot} ${x} ${y})`);
  tx.textContent = str;
  ov.appendChild(tx);
}
addText(yLabel, 41, 510, 32.5, -90);
addText(xLabel, 553, 1023, 32, 0);
wrap.appendChild(ov);
</script></body></html>
